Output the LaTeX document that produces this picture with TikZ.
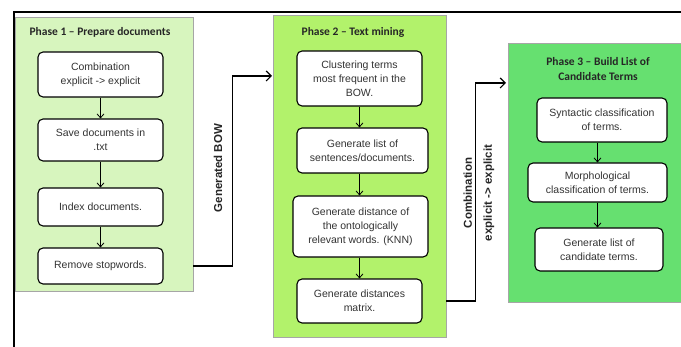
\documentclass[tikz,border=0pt]{standalone}
\usepackage{fontspec}
\setmainfont{Liberation Sans}
\newfontfamily\titlefont{Carlito}
\usepackage[dvipsnames]{xcolor}
\usetikzlibrary{arrows.meta}
\usetikzlibrary{positioning}
\definecolor{phaseone}{HTML}{D7F5BE}
\definecolor{phasetwo}{HTML}{B2F26B}
\definecolor{phasethree}{HTML}{66E070}
\definecolor{boxtext}{HTML}{333333}
\tikzset{panel/.style = {draw=gray!70, line width=0.6pt, inner sep=0}}
\tikzset{stepbox/.style = {draw, rounded corners=5pt, line width=1.1pt, fill=white, align=center, text=boxtext, font=\fontsize{10.5}{14}\selectfont, inner sep=2pt}}
\tikzset{title/.style = {align=center, font=\titlefont\bfseries\fontsize{11.5}{15}\selectfont, text=black!85}}
\tikzset{down/.style = {-{Straight Barb[length=4pt,width=7pt]}, line width=0.8pt}}
\tikzset{link/.style = {-{Straight Barb[length=5pt,width=10pt]}, line width=1.2pt}}
\tikzset{linklabel/.style = {rotate=90, align=center, font=\bfseries\fontsize{11.5}{20}\selectfont, text=black!85}}

\begin{document}
\begin{tikzpicture}[x=1pt, y=-1pt]
        \useasboundingbox (0,0) rectangle (681,347);
        \draw [line width=2pt] (14,347)--(14,12)--(681,12);
        % phases
        \node[panel, fill=phaseone, minimum width=178, minimum height=274] (p1) at (104,154) {};
        \node[panel, fill=phasetwo, minimum width=173, minimum height=322] (p2) at (359.5,176) {};
        \node[panel, fill=phasethree, minimum width=173, minimum height=259] (p3) at (594.5,172.5) {};
        \node[title] (t1) at (100,32) {Phase 1 – Prepare documents};
        \node[title] (t2) at (353,32) {Phase 2 – Text mining};
        \node[title] (t3) at (598,69) {Phase 3 – Build List of\\Candidate Terms};
        % phase 1
        \node[stepbox, minimum width=125, minimum height=45] (a1) at (100.5,74.5) {Combination\\explicit -> explicit};
        \node[stepbox, minimum width=125, minimum height=42] (a2) at (100.5,140) {Save documents in\\.txt};
        \node[stepbox, minimum width=125, minimum height=38] (a3) at (100.5,207) {Index documents.};
        \node[stepbox, minimum width=125, minimum height=36] (a4) at (100.5,266) {Remove stopwords.};
        \draw [down] (a1)--(a2);
        \draw [down] (a2)--(a3);
        \draw [down] (a3)--(a4);
        % phase 2
        \node[stepbox, minimum width=125, minimum height=55] (b1) at (359.5,78.5) {Clustering terms\\most frequent in the\\BOW.};
        \node[stepbox, minimum width=131, minimum height=45] (b2) at (362.5,150.5) {Generate list of\\sentences/documents.};
        \node[stepbox, minimum width=135, minimum height=61] (b3) at (360.5,226.5) {Generate distance of\\the ontologically\\relevant words. (KNN)};
        \node[stepbox, minimum width=125, minimum height=44] (b4) at (359.5,301) {Generate distances\\matrix.};
        \draw [down] (b1.south -| b1.south)--(b2.north -| b1.south);
        \draw [down] (b2.south -| b1.south)--(b3.north -| b1.south);
        \draw [down] (b3.south -| b1.south)--(b4.north -| b1.south);
        % phase 3
        \node[stepbox, minimum width=130, minimum height=44] (c1) at (602,120) {Syntactic classification\\of terms.};
        \node[stepbox, minimum width=139, minimum height=39] (c2) at (597.5,182.5) {Morphological\\classification of terms.};
        \node[stepbox, minimum width=128, minimum height=43] (c3) at (599,249.5) {Generate list of\\candidate terms.};
        \draw [down] (c1.south -| c2.north)--(c2.north);
        \draw [down] (c2.south)--(c3.north -| c2.south);
        % links between phases
        \coordinate (in2) at (272,76);
        \coordinate (in3) at (506,83);
        \draw [link] (p1.east |- a4) -- ++(39,0) |- (in2);
        \draw [link] (p2.east |- b4) -- ++(29,0) |- (in3);
        \node[linklabel] (l1) at (218,168) {Generated BOW};
        \node[linklabel] (l2) at (479,193) {Combination\\explicit -> explicit};
    \end{tikzpicture}
\end{document}
